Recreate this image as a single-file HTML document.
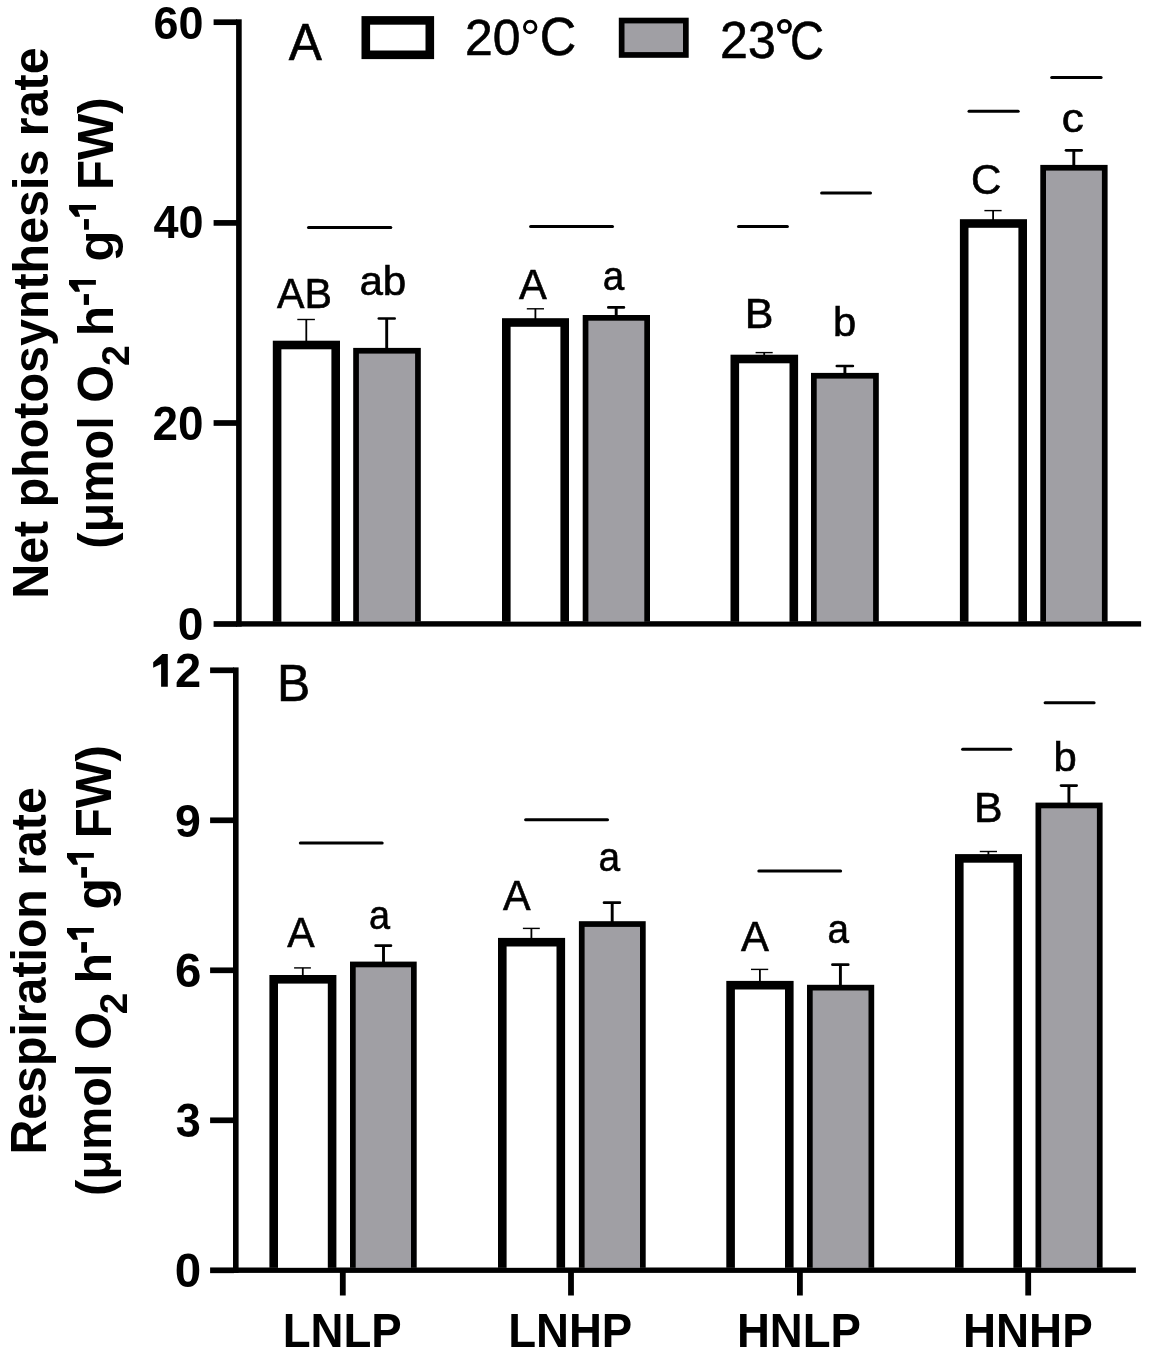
<!DOCTYPE html>
<html><head><meta charset="utf-8"><style>html,body{margin:0;padding:0;background:#fff;overflow:hidden}svg{display:block;will-change:transform}text{font-family:"Liberation Sans",sans-serif;fill:#000}</style></head><body>
<svg width="1150" height="1358" viewBox="0 0 1150 1358">
<rect x="0" y="0" width="1150" height="1358" fill="#fff"/>
<rect x="236.10" y="19.30" width="5.60" height="607.30" fill="#000"/>
<rect x="213.60" y="19.35" width="23.50" height="5.70" fill="#000"/>
<rect x="213.60" y="220.05" width="23.50" height="5.70" fill="#000"/>
<rect x="213.60" y="420.15" width="23.50" height="5.70" fill="#000"/>
<rect x="213.60" y="621.15" width="23.50" height="5.70" fill="#000"/>
<rect x="236.10" y="621.20" width="905.00" height="5.40" fill="#000"/>
<text transform="translate(153.53,38.63) scale(0.9550,1)" font-size="47.04" font-weight="bold">60</text>
<text transform="translate(153.42,238.33) scale(0.9658,1)" font-size="46.62" font-weight="bold">40</text>
<text transform="translate(152.49,439.63) scale(0.9698,1)" font-size="47.32" font-weight="bold">20</text>
<text transform="translate(177.86,639.54) scale(0.9920,1)" font-size="46.48" font-weight="bold">0</text>
<rect x="233.00" y="667.40" width="5.60" height="605.50" fill="#000"/>
<rect x="210.10" y="667.45" width="23.90" height="5.70" fill="#000"/>
<rect x="210.10" y="817.45" width="23.90" height="5.70" fill="#000"/>
<rect x="210.10" y="967.45" width="23.90" height="5.70" fill="#000"/>
<rect x="210.10" y="1117.45" width="23.90" height="5.70" fill="#000"/>
<rect x="210.10" y="1267.45" width="23.90" height="5.70" fill="#000"/>
<rect x="233.00" y="1267.50" width="902.90" height="5.40" fill="#000"/>
<rect x="339.90" y="1270.00" width="5.80" height="25.50" fill="#000"/>
<rect x="568.10" y="1270.00" width="5.80" height="25.50" fill="#000"/>
<rect x="797.00" y="1270.00" width="5.80" height="25.50" fill="#000"/>
<rect x="1025.30" y="1270.00" width="5.80" height="25.50" fill="#000"/>
<text transform="translate(175.05,687.00) scale(0.9927,1)" font-size="47.43" font-weight="bold">2</text>
<path d="M167.8,654 L162.3,654 L153.2,662.3 L153.2,667.8 L161.1,663.9 L161.1,686.7 L167.8,686.7 Z" fill="#000"/>
<text transform="translate(175.07,836.73) scale(0.9906,1)" font-size="47.04" font-weight="bold">9</text>
<text transform="translate(175.04,986.72) scale(0.9845,1)" font-size="48.17" font-weight="bold">6</text>
<text transform="translate(175.87,1136.52) scale(0.9408,1)" font-size="47.89" font-weight="bold">3</text>
<text transform="translate(174.80,1287.03) scale(1.0024,1)" font-size="47.46" font-weight="bold">0</text>
<text transform="translate(282.63,1347.00) scale(0.9538,1)" font-size="47.83" font-weight="bold">LNLP</text>
<text transform="translate(508.14,1347.00) scale(0.9535,1)" font-size="47.83" font-weight="bold">LNHP</text>
<text transform="translate(736.94,1347.00) scale(0.9527,1)" font-size="47.83" font-weight="bold">HNLP</text>
<text transform="translate(963.02,1347.00) scale(0.9572,1)" font-size="47.83" font-weight="bold">HNHP</text>
<rect x="305.40" y="319.50" width="1.80" height="22.20" fill="#000"/>
<rect x="297.30" y="318.80" width="17.60" height="1.40" fill="#000"/>
<rect x="272.80" y="340.70" width="67.20" height="280.90" fill="#000"/>
<rect x="281.40" y="349.30" width="50.00" height="272.30" fill="#fff"/>
<rect x="385.25" y="318.50" width="2.90" height="30.40" fill="#000"/>
<line x1="378.85" y1="318.50" x2="394.65" y2="318.50" stroke="#000" stroke-width="2.7" stroke-linecap="round"/>
<rect x="353.20" y="347.90" width="67.60" height="273.70" fill="#000"/>
<rect x="358.90" y="353.60" width="56.20" height="268.00" fill="#a09fa4"/>
<rect x="534.50" y="308.80" width="1.80" height="10.40" fill="#000"/>
<rect x="526.80" y="308.10" width="17.20" height="1.40" fill="#000"/>
<rect x="502.00" y="318.20" width="67.00" height="303.40" fill="#000"/>
<rect x="510.60" y="326.80" width="49.80" height="294.80" fill="#fff"/>
<rect x="614.75" y="307.40" width="2.90" height="8.60" fill="#000"/>
<line x1="608.35" y1="307.40" x2="623.85" y2="307.40" stroke="#000" stroke-width="2.7" stroke-linecap="round"/>
<rect x="582.70" y="315.00" width="67.30" height="306.60" fill="#000"/>
<rect x="588.40" y="320.70" width="55.90" height="300.90" fill="#a09fa4"/>
<rect x="763.30" y="352.60" width="1.80" height="3.10" fill="#000"/>
<rect x="755.60" y="351.90" width="17.10" height="1.40" fill="#000"/>
<rect x="730.50" y="354.70" width="67.60" height="266.90" fill="#000"/>
<rect x="739.10" y="363.30" width="50.40" height="258.30" fill="#fff"/>
<rect x="843.45" y="366.00" width="2.90" height="7.90" fill="#000"/>
<line x1="836.85" y1="366.00" x2="852.85" y2="366.00" stroke="#000" stroke-width="2.7" stroke-linecap="round"/>
<rect x="811.00" y="372.90" width="67.80" height="248.70" fill="#000"/>
<rect x="816.70" y="378.60" width="56.40" height="243.00" fill="#a09fa4"/>
<rect x="992.20" y="210.60" width="1.80" height="9.60" fill="#000"/>
<rect x="984.40" y="209.90" width="17.20" height="1.40" fill="#000"/>
<rect x="959.90" y="219.20" width="67.10" height="402.40" fill="#000"/>
<rect x="968.50" y="227.80" width="49.90" height="393.80" fill="#fff"/>
<rect x="1072.35" y="150.30" width="2.90" height="15.60" fill="#000"/>
<line x1="1066.05" y1="150.30" x2="1081.65" y2="150.30" stroke="#000" stroke-width="2.7" stroke-linecap="round"/>
<rect x="1040.30" y="164.90" width="67.30" height="456.70" fill="#000"/>
<rect x="1046.00" y="170.60" width="55.90" height="451.00" fill="#a09fa4"/>
<rect x="301.90" y="967.90" width="1.80" height="8.10" fill="#000"/>
<rect x="294.10" y="967.20" width="16.80" height="1.40" fill="#000"/>
<rect x="269.40" y="975.00" width="67.00" height="292.80" fill="#000"/>
<rect x="278.00" y="983.60" width="49.80" height="284.20" fill="#fff"/>
<rect x="382.05" y="945.70" width="2.90" height="16.90" fill="#000"/>
<line x1="375.65" y1="945.70" x2="390.95" y2="945.70" stroke="#000" stroke-width="2.7" stroke-linecap="round"/>
<rect x="350.00" y="961.60" width="66.70" height="306.20" fill="#000"/>
<rect x="355.70" y="967.30" width="55.30" height="300.50" fill="#a09fa4"/>
<rect x="530.50" y="928.40" width="1.80" height="10.50" fill="#000"/>
<rect x="522.90" y="927.70" width="16.90" height="1.40" fill="#000"/>
<rect x="498.00" y="937.90" width="67.10" height="329.90" fill="#000"/>
<rect x="506.60" y="946.50" width="49.90" height="321.30" fill="#fff"/>
<rect x="610.75" y="902.70" width="2.90" height="19.50" fill="#000"/>
<line x1="604.05" y1="902.70" x2="619.85" y2="902.70" stroke="#000" stroke-width="2.7" stroke-linecap="round"/>
<rect x="578.90" y="921.20" width="66.80" height="346.60" fill="#000"/>
<rect x="584.60" y="926.90" width="55.40" height="340.90" fill="#a09fa4"/>
<rect x="759.00" y="969.40" width="1.80" height="12.50" fill="#000"/>
<rect x="751.00" y="968.70" width="17.20" height="1.40" fill="#000"/>
<rect x="726.30" y="980.90" width="67.30" height="286.90" fill="#000"/>
<rect x="734.90" y="989.50" width="50.10" height="278.30" fill="#fff"/>
<rect x="838.95" y="964.70" width="2.90" height="21.10" fill="#000"/>
<line x1="832.45" y1="964.70" x2="848.25" y2="964.70" stroke="#000" stroke-width="2.7" stroke-linecap="round"/>
<rect x="807.00" y="984.80" width="67.20" height="283.00" fill="#000"/>
<rect x="812.70" y="990.50" width="55.80" height="277.30" fill="#a09fa4"/>
<rect x="987.50" y="851.50" width="1.80" height="3.60" fill="#000"/>
<rect x="979.80" y="850.80" width="17.20" height="1.40" fill="#000"/>
<rect x="955.00" y="854.10" width="67.00" height="413.70" fill="#000"/>
<rect x="963.60" y="862.70" width="49.80" height="405.10" fill="#fff"/>
<rect x="1067.45" y="785.60" width="2.90" height="18.00" fill="#000"/>
<line x1="1061.05" y1="785.60" x2="1076.65" y2="785.60" stroke="#000" stroke-width="2.7" stroke-linecap="round"/>
<rect x="1035.50" y="802.60" width="67.10" height="465.20" fill="#000"/>
<rect x="1041.20" y="808.30" width="55.70" height="459.50" fill="#a09fa4"/>
<line x1="308.50" y1="227.40" x2="390.80" y2="227.40" stroke="#000" stroke-width="3.0" stroke-linecap="round"/>
<line x1="530.60" y1="226.60" x2="612.50" y2="226.60" stroke="#000" stroke-width="3.0" stroke-linecap="round"/>
<line x1="738.50" y1="226.40" x2="787.40" y2="226.40" stroke="#000" stroke-width="3.0" stroke-linecap="round"/>
<line x1="821.60" y1="193.00" x2="870.50" y2="193.00" stroke="#000" stroke-width="3.0" stroke-linecap="round"/>
<line x1="969.00" y1="111.30" x2="1018.20" y2="111.30" stroke="#000" stroke-width="3.0" stroke-linecap="round"/>
<line x1="1051.70" y1="77.50" x2="1101.10" y2="77.50" stroke="#000" stroke-width="3.0" stroke-linecap="round"/>
<line x1="300.30" y1="843.00" x2="382.20" y2="843.00" stroke="#000" stroke-width="3.0" stroke-linecap="round"/>
<line x1="525.60" y1="819.70" x2="607.50" y2="819.70" stroke="#000" stroke-width="3.0" stroke-linecap="round"/>
<line x1="758.80" y1="871.00" x2="840.60" y2="871.00" stroke="#000" stroke-width="3.0" stroke-linecap="round"/>
<line x1="962.60" y1="749.30" x2="1010.80" y2="749.30" stroke="#000" stroke-width="3.0" stroke-linecap="round"/>
<line x1="1045.10" y1="702.70" x2="1094.10" y2="702.70" stroke="#000" stroke-width="3.0" stroke-linecap="round"/>
<text transform="translate(276.99,307.70) scale(0.9599,1)" font-size="42.90" font-weight="normal" stroke="#000" stroke-width="0.6">AB</text>
<text transform="translate(359.40,294.79) scale(1.0360,1)" font-size="40.68" font-weight="normal" stroke="#000" stroke-width="0.6">ab</text>
<text transform="translate(519.09,298.60) scale(0.9708,1)" font-size="42.92" font-weight="normal" stroke="#000" stroke-width="0.6">A</text>
<text transform="translate(602.86,290.39) scale(0.9484,1)" font-size="40.73" font-weight="normal" stroke="#000" stroke-width="0.6">a</text>
<text transform="translate(744.76,327.70) scale(1.0194,1)" font-size="42.17" font-weight="normal" stroke="#000" stroke-width="0.6">B</text>
<text transform="translate(832.98,336.20) scale(1.0444,1)" font-size="40.00" font-weight="normal" stroke="#000" stroke-width="0.6">b</text>
<text transform="translate(970.90,194.17) scale(0.9889,1)" font-size="42.54" font-weight="normal" stroke="#000" stroke-width="0.6">C</text>
<text transform="translate(1061.82,131.60) scale(1.1039,1)" font-size="39.82" font-weight="normal" stroke="#000" stroke-width="0.6">c</text>
<text transform="translate(287.19,946.50) scale(0.9534,1)" font-size="43.07" font-weight="normal" stroke="#000" stroke-width="0.6">A</text>
<text transform="translate(369.10,929.19) scale(0.9292,1)" font-size="40.73" font-weight="normal" stroke="#000" stroke-width="0.6">a</text>
<text transform="translate(503.09,909.90) scale(0.9572,1)" font-size="43.21" font-weight="normal" stroke="#000" stroke-width="0.6">A</text>
<text transform="translate(598.55,871.00) scale(0.9750,1)" font-size="39.82" font-weight="normal" stroke="#000" stroke-width="0.6">a</text>
<text transform="translate(740.89,950.80) scale(0.9743,1)" font-size="42.92" font-weight="normal" stroke="#000" stroke-width="0.6">A</text>
<text transform="translate(827.56,942.60) scale(0.9613,1)" font-size="40.18" font-weight="normal" stroke="#000" stroke-width="0.6">a</text>
<text transform="translate(973.98,821.80) scale(0.9978,1)" font-size="42.90" font-weight="normal" stroke="#000" stroke-width="0.6">B</text>
<text transform="translate(1053.38,771.30) scale(1.0480,1)" font-size="39.86" font-weight="normal" stroke="#000" stroke-width="0.6">b</text>
<text transform="translate(288.85,59.70) scale(0.9617,1)" font-size="51.68" font-weight="normal" stroke="#000" stroke-width="0.6">A</text>
<text transform="translate(277.11,700.80) scale(0.9728,1)" font-size="51.30" font-weight="normal" stroke="#000" stroke-width="0.6">B</text>
<rect x="361.50" y="16.10" width="72.60" height="43.00" fill="#000"/>
<rect x="370.10" y="24.70" width="55.40" height="25.80" fill="#fff"/>
<rect x="618.80" y="17.70" width="69.90" height="40.10" fill="#000"/>
<rect x="624.50" y="23.40" width="58.50" height="28.70" fill="#a09fa4"/>
<text transform="translate(465.11,54.89) scale(0.9860,1)" font-size="50.56" font-weight="normal" stroke="#000" stroke-width="0.6">20</text>
<text transform="translate(539.68,55.07) scale(0.9557,1)" font-size="52.82" font-weight="normal" stroke="#000" stroke-width="0.6">C</text>
<circle cx="530.2" cy="27.0" r="5.75" fill="none" stroke="#000" stroke-width="2.9"/>
<text transform="translate(720.10,58.49) scale(0.9826,1)" font-size="50.99" font-weight="normal" stroke="#000" stroke-width="0.6">23</text>
<text transform="translate(789.94,59.06) scale(0.8739,1)" font-size="53.94" font-weight="normal" stroke="#000" stroke-width="0.6">C</text>
<circle cx="784.45" cy="26.4" r="5.6" fill="none" stroke="#000" stroke-width="3.6"/>
<text transform="translate(48.00,598.80) rotate(-90) scale(0.9685,1)" font-size="50" font-weight="bold">Net photosynthesis rate</text>
<text transform="translate(45.90,1154.60) rotate(-90) scale(0.9654,1)" font-size="50" font-weight="bold">Respiration rate</text>
<text transform="translate(112.90,548.73) rotate(-90) scale(0.9737,1)" font-size="50" font-weight="bold">(μmol O</text>
<text transform="translate(129.00,366.11) rotate(-90) scale(0.9740,1)" font-size="38.5" font-weight="bold">2</text>
<text transform="translate(112.90,336.29) rotate(-90) scale(0.9958,1)" font-size="50" font-weight="bold">h</text>
<text transform="translate(112.90,261.53) rotate(-90) scale(1.0139,1)" font-size="50" font-weight="bold">g</text>
<text transform="translate(112.90,189.99) rotate(-90) scale(0.9814,1)" font-size="50" font-weight="bold">FW)</text>
<text transform="translate(110.95,1195.94) rotate(-90) scale(0.9742,1)" font-size="50" font-weight="bold">(μmol O</text>
<text transform="translate(127.00,1014.16) rotate(-90) scale(1.0065,1)" font-size="38.5" font-weight="bold">2</text>
<text transform="translate(110.95,983.51) rotate(-90) scale(1.0042,1)" font-size="50" font-weight="bold">h</text>
<text transform="translate(110.95,909.47) rotate(-90) scale(1.0337,1)" font-size="50" font-weight="bold">g</text>
<text transform="translate(110.95,838.21) rotate(-90) scale(0.9870,1)" font-size="50" font-weight="bold">FW)</text>
<polygon points="69.10,205.00 96.00,205.00 96.00,209.65 77.70,209.65 79.90,215.50 79.90,216.70 75.20,216.70 69.10,209.50" fill="#000"/>
<rect x="84.00" y="219.10" width="4.90" height="10.60" fill="#000"/>
<polygon points="69.00,280.10 95.90,280.10 95.90,284.75 77.60,284.75 79.80,290.60 79.80,291.80 75.10,291.80 69.00,284.60" fill="#000"/>
<rect x="83.80" y="294.10" width="5.20" height="10.80" fill="#000"/>
<polygon points="67.00,853.10 93.90,853.10 93.90,857.75 75.60,857.75 77.80,863.60 77.80,864.80 73.10,864.80 67.00,857.60" fill="#000"/>
<rect x="81.20" y="867.10" width="5.80" height="10.60" fill="#000"/>
<polygon points="67.00,928.10 93.90,928.10 93.90,932.75 75.60,932.75 77.80,938.60 77.80,939.80 73.10,939.80 67.00,932.60" fill="#000"/>
<rect x="81.20" y="942.10" width="5.80" height="10.60" fill="#000"/>
</svg>
</body></html>
